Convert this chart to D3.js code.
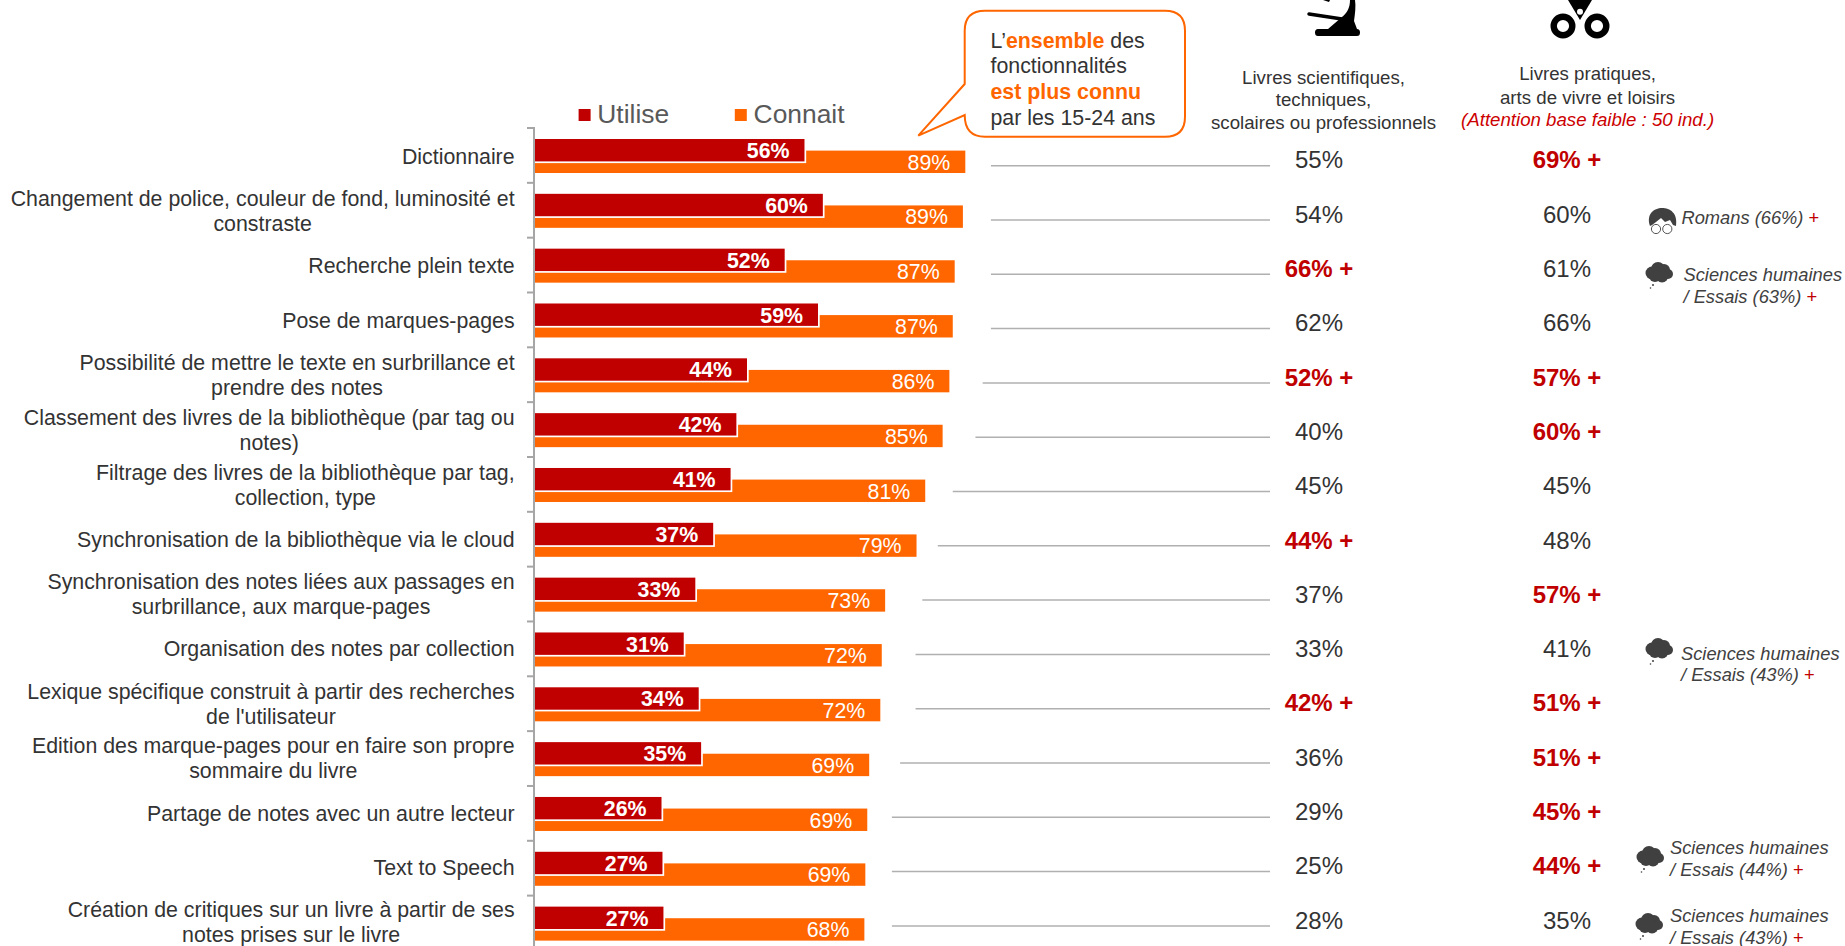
<!DOCTYPE html>
<html lang="fr">
<head>
<meta charset="utf-8">
<title>Fonctionnalités connues et utilisées</title>
<script src="https://cdn.jsdelivr.net/npm/d3@7"></script>
<style>
html,body{margin:0;padding:0;background:#fff;overflow:hidden}
svg{display:block;font-family:"Liberation Sans",Arial,sans-serif}
</style>
</head>
<body>
<svg id="chart" width="1845" height="946" viewBox="0 0 1845 946"></svg>
<script>
// ---- Data ----
const categories = [
  ["Dictionnaire"],
  ["Changement de police, couleur de fond, luminosité et","constraste"],
  ["Recherche plein texte"],
  ["Pose de marques-pages"],
  ["Possibilité de mettre le texte en surbrillance et","prendre des notes"],
  ["Classement des livres de la bibliothèque (par tag ou","notes)"],
  ["Filtrage des livres de la bibliothèque par tag,","collection, type"],
  ["Synchronisation de la bibliothèque via le cloud"],
  ["Synchronisation des notes liées aux passages en","surbrillance, aux marque-pages"],
  ["Organisation des notes par collection"],
  ["Lexique spécifique construit à partir des recherches","de l'utilisateur"],
  ["Edition des marque-pages pour en faire son propre","sommaire du livre"],
  ["Partage de notes avec un autre lecteur"],
  ["Text to Speech"],
  ["Création de critiques sur un livre à partir de ses","notes prises sur le livre"]
];
const utilise = [56.0,59.8,51.9,58.8,44.1,41.9,40.7,37.1,33.4,31.0,34.1,34.6,26.4,26.6,26.8];
const connait = [89.3,88.8,87.1,86.7,86.0,84.6,81.0,79.2,72.7,72.0,71.7,69.4,69.0,68.6,68.4];
const leaderFrom = [94.6,94.6,94.6,94.6,92.9,91.4,86.7,83.6,80.4,79.0,79.0,75.8,74.1,74.1,74.1];
const scientifiques = [55,54,66,62,52,40,45,44,37,33,42,36,29,25,28];
const scientifiquesPlus = [0,0,1,0,1,0,0,1,0,0,1,0,0,0,0];
const pratiques = [69,60,61,66,57,60,45,48,57,41,51,51,45,44,35];
const pratiquesPlus = [1,0,0,0,1,1,0,0,1,0,1,1,1,1,0];
const seriesNames = ["Utilise","Connait"];
const column1Title = ["Livres scientifiques,","techniques,","scolaires ou professionnels"];
const column2Title = ["Livres pratiques,","arts de vivre et loisirs"];
const column2Warning = "(Attention base faible : 50 ind.)";
const genreNotes = [
  {row:1, icon:"head",  lines:["Romans (66%)"]},
  {row:2, icon:"cloud", lines:["Sciences humaines","/ Essais (63%)"]},
  {row:9, icon:"cloud", lines:["Sciences humaines","/ Essais (43%)"]},
  {row:13,icon:"cloud", lines:["Sciences humaines","/ Essais (44%)"]},
  {row:14,icon:"cloud", lines:["Sciences humaines","/ Essais (43%)"]}
];
const calloutLines = [
  [["L’",0],["ensemble",1],[" des",0]],
  [["fonctionnalités",0]],
  [["est plus connu",1]],
  [["par les 15-24 ans",0]]
];

// ---- Layout ----
const RED="#c00000", ORANGE="#ff6600", INK="#333333", GREY="#a6a6a6";
const noteLayout = {
  1:{tx:1681.5,ty:[217.7],ix:1649,iy:208},
  2:{tx:1683.5,ty:[275,296.7],ix:1645,iy:262},
  9:{tx:1681,ty:[653.3,675],ix:1645,iy:638},
  13:{tx:1670,ty:[847.7,869.3],ix:1636,iy:846},
  14:{tx:1670,ty:[915.7,937.3],ix:1635,iy:913}
};
const svg = d3.select("#chart");
const idx = d3.range(categories.length);
const x = d3.scaleLinear().domain([0,100]).range([534,534+483]);
const y = d3.scaleBand().domain(idx).range([128,128+54.83*15]).padding(0);
const yRow = d3.scaleLinear().domain([0,14]).range([0,54.3*14]);
const yLabel = d3.scaleLinear().domain([0,14]).range([156.4,156.4+54.72*14]);

function cy(sel){return sel.attr("dy","0.35em");}

// ---- Leaders ----
svg.append("g").selectAll("line").data(idx).join("line")
  .attr("x1",i=>x(leaderFrom[i])).attr("x2",1270)
  .attr("y1",i=>165.7+yRow(i)).attr("y2",i=>165.7+yRow(i))
  .attr("stroke","#b0b0b0").attr("stroke-width",1.5);

// ---- Bars ----
const barH=22.4;
const orangeG=svg.append("g");
orangeG.selectAll("rect").data(idx).join("rect")
  .attr("x",x(0)+1).attr("y",i=>y(i)+22.6)
  .attr("width",i=>x(connait[i])-x(0)-1).attr("height",barH)
  .attr("fill",ORANGE);
orangeG.selectAll("text").data(idx).join("text")
  .attr("x",i=>x(connait[i])-15).attr("y",i=>y(i)+23+barH/2)
  .call(cy).attr("text-anchor","end").attr("font-size",21.33).attr("fill","#fff")
  .text(i=>Math.round(connait[i])+"%");

const redG=svg.append("g");
redG.selectAll("rect.halo").data(idx).join("rect").attr("class","halo")
  .attr("x",x(0)+1).attr("y",i=>y(i)+11)
  .attr("width",i=>x(utilise[i])-x(0)+0.7).attr("height",barH+1.7)
  .attr("fill","#fff");
redG.selectAll("rect.bar").data(idx).join("rect").attr("class","bar")
  .attr("x",x(0)+1).attr("y",i=>y(i)+11)
  .attr("width",i=>x(utilise[i])-x(0)-1).attr("height",barH)
  .attr("fill",RED);
redG.selectAll("text").data(idx).join("text")
  .attr("x",i=>x(utilise[i])-15).attr("y",i=>y(i)+11.5+barH/2)
  .call(cy).attr("text-anchor","end").attr("font-size",21.33).attr("font-weight","bold").attr("fill","#fff")
  .text(i=>Math.round(utilise[i])+"%");

// ---- Axis ----
const axisG=svg.append("g").attr("stroke",GREY).attr("stroke-width",2);
axisG.append("line").attr("x1",x(0)).attr("x2",x(0)).attr("y1",y(0)-1).attr("y2",946);
axisG.selectAll("line.t").data(idx).join("line").attr("class","t")
  .attr("x1",x(0)-7).attr("x2",x(0)).attr("y1",i=>y(i)).attr("y2",i=>y(i));

// ---- Category labels (right aligned block, centred lines) ----
const labelRight=514.6, labelSize=21.33, labelLH=25;
const labG=svg.append("g").attr("font-size",labelSize).attr("fill",INK);
categories.forEach((lines,i)=>{
  const c=yLabel(i);
  const nodes=lines.map((s,k)=>labG.append("text")
    .attr("y",c+(k-(lines.length-1)/2)*labelLH).attr("dy","0.35em")
    .attr("text-anchor","middle").text(s));
  const w=d3.max(nodes,n=>n.node().getComputedTextLength());
  nodes.forEach(n=>n.attr("x",labelRight-w/2));
});

// ---- Value columns ----
function column(vals,plus,cx){
  svg.append("g").selectAll("text").data(idx).join("text")
    .attr("x",cx).attr("y",i=>160+yRow(i)).attr("dy","0.35em")
    .attr("text-anchor","middle").attr("font-size",24)
    .attr("font-weight",i=>plus[i]?"bold":"normal")
    .attr("fill",i=>plus[i]?RED:INK)
    .text(i=>vals[i]+"%"+(plus[i]?" +":""));
}
column(scientifiques,scientifiquesPlus,1319);
column(pratiques,pratiquesPlus,1567);

// ---- Column headers ----
const h1=[77.7,99.7,122], h2=[73.3,97];
column1Title.forEach((s,k)=>svg.append("text").attr("x",1323.5).attr("y",h1[k]).attr("dy","0.35em")
  .attr("text-anchor","middle").attr("font-size",18.67).attr("fill",INK).text(s));
column2Title.forEach((s,k)=>svg.append("text").attr("x",1587.6).attr("y",h2[k]).attr("dy","0.35em")
  .attr("text-anchor","middle").attr("font-size",18.67).attr("fill",INK).text(s));
svg.append("text").attr("x",1587.6).attr("y",119).attr("dy","0.35em")
  .attr("text-anchor","middle").attr("font-size",18.67).attr("font-style","italic").attr("fill","#cc0000").text(column2Warning);

// ---- Legend ----
const lg=svg.append("g");
[[578.6,597.3,RED],[734.8,753.6,ORANGE]].forEach((d,k)=>{
  lg.append("rect").attr("x",d[0]).attr("y",109).attr("width",12).attr("height",12).attr("fill",d[2]);
  lg.append("text").attr("x",d[1]).attr("y",114).attr("dy","0.35em").attr("font-size",26.4).attr("fill","#595959").text(seriesNames[k]);
});

// ---- Callout ----
svg.append("path")
  .attr("d","M985,10.7 H1165 Q1185,10.7 1185,30.7 V116.7 Q1185,136.7 1165,136.7 H985 Q964.7,136.7 964.7,115 L918.3,135.7 L964.7,84 V30.7 Q964.7,10.7 985,10.7 Z")
  .attr("fill","#fff").attr("stroke",ORANGE).attr("stroke-width",2).attr("stroke-linejoin","miter");
const cY=[40.7,65.7,92,117.7];
calloutLines.forEach((parts,k)=>{
  const t=svg.append("text").attr("x",990.5).attr("y",cY[k]).attr("dy","0.35em").attr("font-size",21.33).attr("fill",INK);
  parts.forEach(p=>t.append("tspan").text(p[0])
    .attr("font-weight",p[1]?"bold":"normal").attr("fill",p[1]?ORANGE:INK));
});

// ---- Top icons ----
const ic=svg.append("g").attr("fill","#000");
ic.append("path").attr("d","M1350,0 C1350,8 1347,13 1342,17 L1328,29 H1318 Q1315,29 1315,32.5 Q1315,36 1318,36 H1357 Q1360,36 1360,32.5 Q1360,29 1357,29 L1354,21 C1355,14 1356,6 1355,0 Z");
ic.append("line").attr("x1",1309).attr("y1",14).attr("x2",1342).attr("y2",19).attr("stroke","#000").attr("stroke-width",3.5).attr("stroke-linecap","round");
ic.append("path").attr("d","M1323,0 H1330 L1329,2 Z");
ic.append("path").attr("d","M1568,0 H1592 L1580,20 Z");
ic.append("circle").attr("cx",1580).attr("cy",11.7).attr("r",3).attr("fill","#fff");
[1563,1597].forEach(c=>ic.append("circle").attr("cx",c).attr("cy",26).attr("r",9.3)
  .attr("fill","#fff").attr("stroke","#000").attr("stroke-width",6.4));

// ---- Genre notes ----
const DARK="#404040";
function cloud(g,px,py){
  const a=g.append("g").attr("transform",`translate(${px},${py})`).attr("fill",DARK);
  [[7,11,6.5],[13,7,7],[19,8,6],[23,12,5],[17,14,6.5],[10,14,6]].forEach(c=>
    a.append("circle").attr("cx",c[0]).attr("cy",c[1]).attr("r",c[2]));
  a.append("circle").attr("cx",8).attr("cy",23).attr("r",1);
  a.append("circle").attr("cx",5.5).attr("cy",26).attr("r",0.8);
}
function head(g,px,py){
  const a=g.append("g").attr("transform",`translate(${px},${py})`);
  a.append("path").attr("fill",DARK).attr("d","M1,18 C-3,6 5,0 13,0 C21,0 29,5 27,18 L24,17 L21,12 L16,14 L12,10 L7,14 L3,17 Z");
  [[7,21],[18.3,21]].forEach(c=>a.append("circle").attr("cx",c[0]).attr("cy",c[1]).attr("r",4.6)
    .attr("fill","#fff").attr("stroke","#555").attr("stroke-width",1));
}
const ng=svg.append("g");
genreNotes.forEach(n=>{
  const L=noteLayout[n.row];
  (n.icon==="cloud"?cloud:head)(ng,L.ix,L.iy);
  n.lines.forEach((s,k)=>{
    const t=ng.append("text").attr("x",L.tx).attr("y",L.ty[k]).attr("dy","0.35em")
      .attr("font-size",18.3).attr("font-style","italic").attr("fill",DARK).text(s);
    if(k===n.lines.length-1) t.append("tspan").text(" +").attr("font-style","normal").attr("fill",RED);
  });
});
</script>
</body>
</html>
